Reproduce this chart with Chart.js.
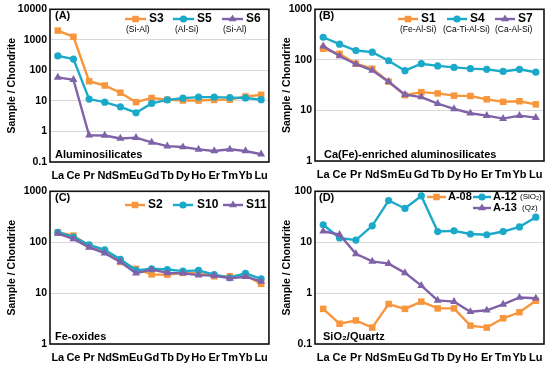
<!DOCTYPE html>
<html><head><meta charset="utf-8">
<script src="https://cdn.jsdelivr.net/npm/chart.js@4/dist/chart.umd.min.js"></script>
<style>
body{margin:0;background:#fff;width:550px;height:365px;position:relative;overflow:hidden}
.p{position:absolute}
canvas{display:block}
</style></head><body>
<div class="p" style="left:0;top:0"><canvas id="cA" width="275" height="182"></canvas></div>
<div class="p" style="left:275px;top:0"><canvas id="cB" width="275" height="182"></canvas></div>
<div class="p" style="left:0;top:182px"><canvas id="cC" width="275" height="183"></canvas></div>
<div class="p" style="left:275px;top:182px"><canvas id="cD" width="275" height="183"></canvas></div>
<script>
// ---------- data ----------
const elements = ['La','Ce','Pr','Nd','Sm','Eu','Gd','Tb','Dy','Ho','Er','Tm','Yb','Lu'];
const ticksA = [0.1, 1, 10, 100, 1000, 10000];
const ticksB = [1, 10, 100, 1000];
const ticksC = [1, 10, 100, 1000];
const ticksD = [0.1, 1, 10, 100];

const s3  = [2000,1260,44,32,18.6,9.1,12.5,11,10.3,10.3,10.8,11,14,15.8];
const s5  = [297,234,11.5,9.1,6.4,4.1,8.3,10.8,12.3,13.3,13.3,12.8,12.5,11];
const s6  = [59,49.5,0.75,0.74,0.59,0.63,0.44,0.33,0.31,0.26,0.23,0.26,0.23,0.18];

const s1  = [166,132,84,67,37,20,23,21.7,19.6,19.3,16.6,14.8,15.2,13.2];
const s4  = [280,204,153,142,96,61,84,76,71,67,65,59,65,57];
const s7  = [187,119,82,62,37,20.5,18.4,13.6,10.7,8.8,7.9,6.9,7.9,7.2];

const s2  = [157,135,86,66,41,30,23.3,23,25,25,21.4,21.4,22.5,15.2];
const s10 = [157,126,89,71,46,28,30,29,27,28,23,20,24.5,19];
const s11 = [148,116,79,61,41,24.5,29,25,24.5,22.5,22,19.5,21,17];

const a08 = [0.49,0.25,0.29,0.21,0.61,0.49,0.68,0.5,0.5,0.23,0.21,0.32,0.42,0.71];
const a12 = [22,12.1,11,21,66,46,81,16.2,16.7,14.5,14,16.2,20,31];
const a13 = [16.4,14.1,5.9,4.2,3.8,2.5,1.4,0.72,0.68,0.43,0.46,0.6,0.82,0.79];

// ---------- styles ----------
const FONT = '"Liberation Sans", Arial, sans-serif';
const ORANGE = '#F7963C', CYAN = '#1AA9C8', PURPLE = '#7F62A8';
const ST = {
  o: {color: ORANGE, style: 'rect', r: 4.6, order: 3},
  c: {color: CYAN, style: 'circle', r: 3.6, order: 2},
  p: {color: PURPLE, style: 'triangle', r: 4.6, order: 1}
};

function marker(ctx, style, r, x, y, color) {
  ctx.save();
  ctx.fillStyle = color;
  ctx.beginPath();
  if (style === 'rect') {
    const s = r * Math.SQRT1_2;
    ctx.rect(x - s, y - s, 2 * s, 2 * s);
  } else if (style === 'circle') {
    ctx.arc(x, y, r, 0, Math.PI * 2);
  } else {
    const w = r * Math.sqrt(3) / 2;
    ctx.moveTo(x, y - r);
    ctx.lineTo(x + w, y + r / 2);
    ctx.lineTo(x - w, y + r / 2);
    ctx.closePath();
  }
  ctx.fill();
  ctx.restore();
}

function legendItem(ctx, st, x1, x2, y, text, tx, size) {
  ctx.save();
  ctx.strokeStyle = st.color;
  ctx.lineWidth = 2.4;
  ctx.beginPath(); ctx.moveTo(x1, y); ctx.lineTo(x2, y); ctx.stroke();
  marker(ctx, st.style, st.r, (x1 + x2) / 2, y, st.color);
  ctx.fillStyle = '#000';
  ctx.font = 'bold ' + (size || 12) + 'px ' + FONT;
  ctx.textBaseline = 'middle';
  ctx.textAlign = 'left';
  ctx.fillText(text, tx, y);
  ctx.restore();
}
function txt(ctx, s, x, y, size, bold) {
  ctx.save();
  ctx.fillStyle = '#000';
  ctx.font = (bold ? 'bold ' : '') + size + 'px ' + FONT;
  ctx.textBaseline = 'middle';
  ctx.textAlign = 'left';
  ctx.fillText(s, x, y);
  ctx.restore();
}

function makeChart(id, area, yTicks, series, decor) {
  const cv = document.getElementById(id);
  const W = cv.width, H = cv.height;
  return new Chart(cv, {
    type: 'line',
    data: {
      labels: elements,
      datasets: series.map(s => ({
        label: s.name, data: s.data,
        borderColor: s.st.color, backgroundColor: s.st.color,
        pointBackgroundColor: s.st.color, pointBorderColor: s.st.color,
        borderWidth: 2.4, pointStyle: s.st.style, pointRadius: s.st.r,
        pointHoverRadius: s.st.r, pointBorderWidth: 0, order: s.st.order,
        tension: 0, clip: false
      }))
    },
    options: {
      responsive: false, animation: false, devicePixelRatio: 1,
      events: [],
      layout: {padding: {left: 0, top: area.top, right: W - area.right, bottom: 0}},
      plugins: {legend: {display: false}, tooltip: {enabled: false}},
      scales: {
        x: {
          type: 'category', offset: true,
          grid: {display: false, drawTicks: false}, border: {display: false},
          ticks: {autoSkip: false, maxRotation: 0, minRotation: 0, padding: 7, color: '#000',
                  font: {family: FONT, size: 11, weight: 'bold'}},
          afterFit: s => { s.height = H - area.bottom; }
        },
        y: {
          type: 'logarithmic', min: yTicks[0], max: yTicks[yTicks.length - 1],
          grid: {color: '#d9d9d9', lineWidth: 1, drawTicks: false}, border: {display: false},
          ticks: {padding: 3, color: '#000', font: {family: FONT, size: 10.5, weight: 'bold'},
                  callback: v => String(v)},
          afterBuildTicks: s => { s.ticks = yTicks.map(v => ({value: v})); },
          afterFit: s => { s.width = area.left; },
          title: {display: true, text: 'Sample / Chondrite', color: '#000',
                  font: {family: FONT, size: 10.5, weight: 'bold'}, padding: {top: 6, bottom: 0}}
        }
      }
    },
    plugins: [{
      id: 'decor',
      afterDraw(chart) {
        const ctx = chart.ctx, a = chart.chartArea;
        ctx.save();
        ctx.strokeStyle = '#111';
        ctx.lineWidth = 1.6;
        ctx.strokeRect(a.left, a.top, a.right - a.left, a.bottom - a.top);
        ctx.restore();
        decor(ctx);
      }
    }]
  });
}

makeChart('cA', {left: 50, right: 271, top: 8, bottom: 162}, ticksA, [
  {name: 'S3', data: s3, st: ST.o}, {name: 'S5', data: s5, st: ST.c}, {name: 'S6', data: s6, st: ST.p}
], ctx => {
  txt(ctx, '(A)', 55, 16, 11, true);
  txt(ctx, 'Aluminosilicates', 55, 155, 11, true);
  legendItem(ctx, ST.o, 125, 146, 19, 'S3', 149);
  legendItem(ctx, ST.c, 173, 194, 19, 'S5', 197);
  legendItem(ctx, ST.p, 222, 243, 19, 'S6', 246);
  txt(ctx, '(Si-Al)', 126, 30, 8.5, false);
  txt(ctx, '(Al-Si)', 175, 30, 8.5, false);
  txt(ctx, '(Si-Al)', 223, 30, 8.5, false);
});

makeChart('cB', {left: 40, right: 269, top: 8, bottom: 161}, ticksB, [
  {name: 'S1', data: s1, st: ST.o}, {name: 'S4', data: s4, st: ST.c}, {name: 'S7', data: s7, st: ST.p}
], ctx => {
  txt(ctx, '(B)', 44, 16, 11, true);
  txt(ctx, 'Ca(Fe)-enriched aluminosilicates', 49, 155, 11, true);
  legendItem(ctx, ST.o, 123, 143, 19, 'S1', 146);
  legendItem(ctx, ST.c, 172, 192, 19, 'S4', 195);
  legendItem(ctx, ST.p, 220, 240, 19, 'S7', 243);
  txt(ctx, '(Fe-Al-Si)', 125, 29.5, 8.5, false);
  txt(ctx, '(Ca-Ti-Al-Si)', 168, 29.5, 8.5, false);
  txt(ctx, '(Ca-Al-Si)', 220, 29.5, 8.5, false);
});

makeChart('cC', {left: 50, right: 272, top: 9, bottom: 162}, ticksC, [
  {name: 'S2', data: s2, st: ST.o}, {name: 'S10', data: s10, st: ST.c}, {name: 'S11', data: s11, st: ST.p}
], ctx => {
  txt(ctx, '(C)', 55, 16, 11, true);
  txt(ctx, 'Fe-oxides', 55, 155, 11, true);
  legendItem(ctx, ST.o, 125, 145, 23, 'S2', 148);
  legendItem(ctx, ST.c, 173, 193, 23, 'S10', 197);
  legendItem(ctx, ST.p, 223, 243, 23, 'S11', 246);
});

makeChart('cD', {left: 40, right: 269, top: 8, bottom: 162}, ticksD, [
  {name: 'A-08', data: a08, st: ST.o}, {name: 'A-12', data: a12, st: ST.c}, {name: 'A-13', data: a13, st: ST.p}
], ctx => {
  txt(ctx, '(D)', 44, 16, 11, true);
  txt(ctx, 'SiO\u2082/Quartz', 48, 155, 11, true);
  legendItem(ctx, ST.o, 152, 171, 15, 'A-08', 173, 11);
  legendItem(ctx, ST.c, 198, 216, 15, 'A-12', 218, 11);
  txt(ctx, '(SiO\u2082)', 245, 15, 8, false);
  legendItem(ctx, ST.p, 198, 216, 26, 'A-13', 218, 11);
  txt(ctx, '(Qz)', 247, 26, 8, false);
});
</script>
</body></html>
